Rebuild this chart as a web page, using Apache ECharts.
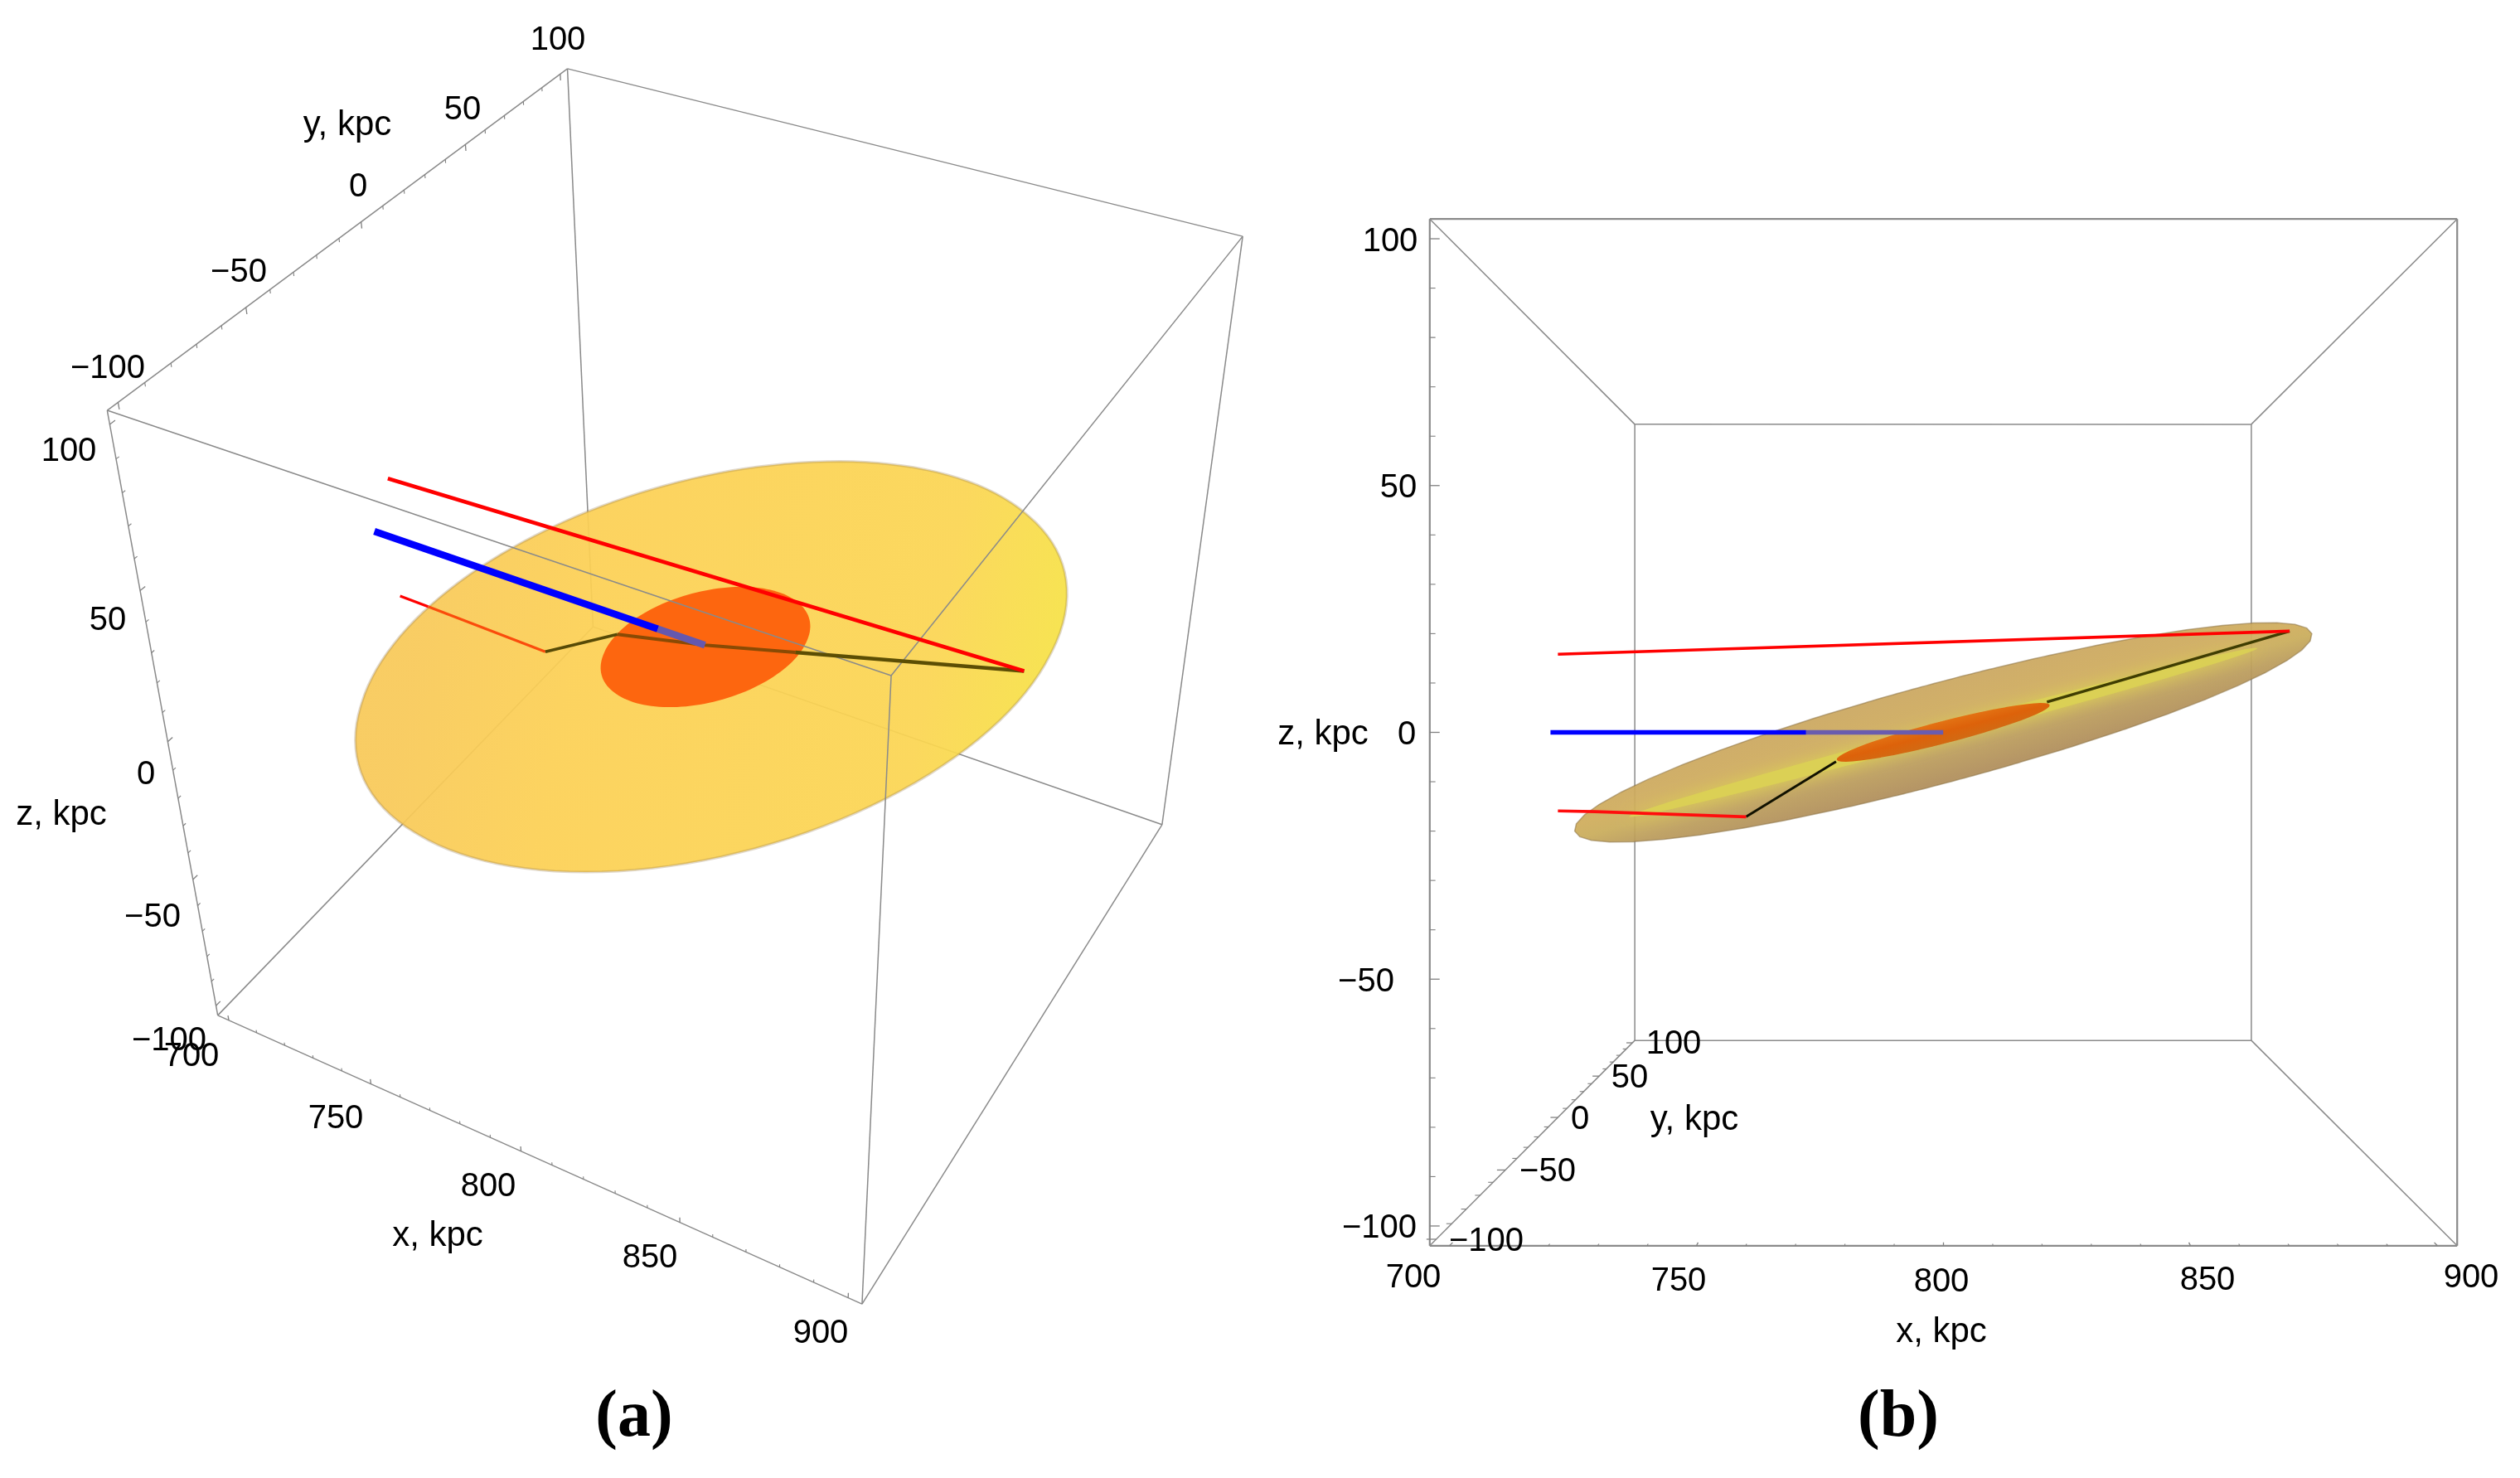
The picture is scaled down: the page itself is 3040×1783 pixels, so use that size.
<!DOCTYPE html>
<html lang="en">

<head>
    <meta charset="UTF-8">
    <script src="https://cdn.jsdelivr.net/npm/echarts@6/dist/echarts.min.js"></script>
    <title>Disk and sight lines</title>
    <style>
        html, body { margin: 0; padding: 0; background: #fff; }
    </style>
</head>

<body>
    <div id="main" style="width: 3040px;height:1783px;"></div>

    <script type="text/javascript">
        // tick labels (kpc)
        var xTicks = [700, 750, 800, 850, 900];
        var yTicks = [-100, -50, 0, 50, 100];
        var zTicks = [-100, -50, 0, 50, 100];

        // sight lines, points as [x, y, z] in kpc
        var blueLine = [[694, 0, 0], [763, 0, 0], [785, 0, 0], [800, 0, 0]];
        var blueStartA = [689, 0, 0];
        var upperRed = [[696, 0, 21.1], [893.5, 0, 27.35]];
        var lowerRed = [[696, 0, -21.2], [706, 0, -21.4], [746.8, 0, -22.8]];
        var blackLine = [[746.8, 0, -22.8], [771, 1, -7.9], [800, 0, 0], [828, 0, 8.2], [893.5, 0, 27.35]];

        // the two spheroids: centre, radius, half thickness, tilt of the normal (rad)
        var diskCenter = [800, 0, 0];
        var outerRadius = 100, outerThick = 10.5, outerThickSide = 13, outerTilt = 0.262;
        var innerRadius = 29.6, innerThick = 3, innerTilt = 0.252;

        // box limits with mathematica's 2% padding
        var xLim = [696, 904], yLim = [-104, 104], zLim = [-104, 104];

        // where each box corner lands on the page, one view per panel
        // order: (xlo,ylo,zhi) (xlo,yhi,zhi) (xhi,yhi,zhi) (xhi,ylo,zhi) (xlo,ylo,zlo) (xlo,yhi,zlo) (xhi,yhi,zlo) (xhi,ylo,zlo)
        var viewA = [[129, 495], [685, 83], [1499, 285], [1075, 815], [263, 1225], [715, 756], [1402, 995], [1040, 1573]];
        var viewB = [[1725, 264], [1972, 512], [2716, 512], [2964, 264], [1725, 1503], [1972, 1255], [2716, 1255], [2964, 1503]];

        // text spots, same order as the tick arrays
        var spotsA = {
            x: [[231, 1271], [405, 1346], [589, 1428], [784, 1514], [990, 1605]],
            y: [[130, 441], [288, 325], [432, 222], [558, 129], [673, 45]],
            z: [[204, 1252], [184, 1103], [176, 931], [130, 745], [83, 541]],
            names: [['x, kpc', 528, 1487], ['y, kpc', 419, 147], ['z, kpc', 74, 979]]
        };
        var spotsB = {
            x: [[1705, 1538], [2025, 1542], [2342, 1543], [2663, 1541], [2981, 1538]],
            y: [[1793, 1494], [1867, 1410], [1906, 1347], [1966, 1297], [2019, 1256]],
            z: [[1664, 1478], [1648, 1181], [1697, 883], [1687, 585], [1677, 288]],
            names: [['x, kpc', 2342, 1603], ['y, kpc', 2044, 1347], ['z, kpc', 1596, 882]]
        };

        var GRAY = '#8a8a8a';

        function solve(A, b) {
            var n = b.length;
            for (var i = 0; i < n; i++) {
                var m = i;
                for (var r = i; r < n; r++) if (Math.abs(A[r][i]) > Math.abs(A[m][i])) m = r;
                var t = A[i]; A[i] = A[m]; A[m] = t;
                t = b[i]; b[i] = b[m]; b[m] = t;
                for (r = i + 1; r < n; r++) {
                    var f = A[r][i] / A[i][i];
                    for (var c = i; c < n; c++) A[r][c] -= f * A[i][c];
                    b[r] -= f * b[i];
                }
            }
            var x = [];
            for (i = n - 1; i >= 0; i--) {
                var s = b[i];
                for (c = i + 1; c < n; c++) s -= A[i][c] * x[c];
                x[i] = s / A[i][i];
            }
            return x;
        }

        function norm3(p) {
            return [(p[0] - 800) / 100, p[1] / 100, p[2] / 100];
        }

        function boxCorners() {
            return [
                [xLim[0], yLim[0], zLim[1]], [xLim[0], yLim[1], zLim[1]], [xLim[1], yLim[1], zLim[1]], [xLim[1], yLim[0], zLim[1]],
                [xLim[0], yLim[0], zLim[0]], [xLim[0], yLim[1], zLim[0]], [xLim[1], yLim[1], zLim[0]], [xLim[1], yLim[0], zLim[0]]
            ];
        }

        // least squares perspective camera from the eight corners
        function makeCamera(view) {
            var rows = [], vals = [];
            boxCorners().forEach(function (c, i) {
                var p = norm3(c), u = view[i][0], w = view[i][1];
                rows.push([p[0], p[1], p[2], 1, 0, 0, 0, 0, -u * p[0], -u * p[1], -u * p[2]]); vals.push(u);
                rows.push([0, 0, 0, 0, p[0], p[1], p[2], 1, -w * p[0], -w * p[1], -w * p[2]]); vals.push(w);
            });
            var A = [], b = [];
            for (var i = 0; i < 11; i++) {
                A.push(new Array(11).fill(0));
                b.push(0);
            }
            rows.forEach(function (r, k) {
                for (var i = 0; i < 11; i++) {
                    b[i] += r[i] * vals[k];
                    for (var j = 0; j < 11; j++) A[i][j] += r[i] * r[j];
                }
            });
            var H = solve(A, b);
            return function (pt) {
                var p = norm3(pt);
                var d = H[8] * p[0] + H[9] * p[1] + H[10] * p[2] + 1;
                return [(H[0] * p[0] + H[1] * p[1] + H[2] * p[2] + H[3]) / d, (H[4] * p[0] + H[5] * p[1] + H[6] * p[2] + H[7]) / d];
            };
        }

        function hull(pts) {
            pts = pts.slice().sort(function (a, b) { return a[0] - b[0] || a[1] - b[1]; });
            function cross(o, a, b) { return (a[0] - o[0]) * (b[1] - o[1]) - (a[1] - o[1]) * (b[0] - o[0]); }
            var lo = [], up = [];
            pts.forEach(function (p) {
                while (lo.length > 1 && cross(lo[lo.length - 2], lo[lo.length - 1], p) <= 0) lo.pop();
                lo.push(p);
            });
            pts.slice().reverse().forEach(function (p) {
                while (up.length > 1 && cross(up[up.length - 2], up[up.length - 1], p) <= 0) up.pop();
                up.push(p);
            });
            return lo.slice(0, -1).concat(up.slice(0, -1));
        }

        // outline of a spheroid as seen by one camera
        function outline(cam, R, T, tilt) {
            var n = [-Math.sin(tilt), 0, Math.cos(tilt)];
            var e1 = [Math.cos(tilt), 0, Math.sin(tilt)], e2 = [0, 1, 0];
            var pts = [];
            for (var i = 0; i < 144; i++) {
                for (var j = -12; j <= 12; j++) {
                    var u = i / 144 * 2 * Math.PI, v = j / 12 * Math.PI / 2;
                    var a = R * Math.cos(v) * Math.cos(u), b = R * Math.cos(v) * Math.sin(u), c = T * Math.sin(v);
                    pts.push(cam([
                        diskCenter[0] + a * e1[0] + b * e2[0] + c * n[0],
                        diskCenter[1] + a * e1[1] + b * e2[1] + c * n[1],
                        diskCenter[2] + a * e1[2] + b * e2[2] + c * n[2]
                    ]));
                }
            }
            return hull(pts);
        }

        function gradient(x0, y0, x1, y1, stops) {
            return new echarts.graphic.LinearGradient(x0, y0, x1, y1, stops.map(function (s) {
                return { offset: s[0], color: s[1] };
            }), true);
        }

        function lineSeries(grid, cam, pts, color, width) {
            return {
                type: 'line', xAxisIndex: grid, yAxisIndex: grid, data: pts.map(cam), showSymbol: false, symbol: 'none',
                silent: true, clip: false, animation: false, smooth: false,
                lineStyle: { color: color, width: width, cap: 'butt', join: 'miter' }
            };
        }

        function polySeries(grid, points, style) {
            return {
                type: 'custom', xAxisIndex: grid, yAxisIndex: grid, silent: true, clip: false, animation: false,
                data: [0],
                renderItem: function (params, api) {
                    return { type: 'polygon', shape: { points: points.map(function (p) { return api.coord(p); }) }, style: style };
                }
            };
        }

        function segSeries(grid, segs) {
            return {
                type: 'custom', xAxisIndex: grid, yAxisIndex: grid, silent: true, clip: false, animation: false,
                data: segs.map(function (s, i) { return i; }),
                renderItem: function (params, api) {
                    var s = segs[params.dataIndex];
                    var a = api.coord(s[0]), b = api.coord(s[1]);
                    return {
                        type: 'line', shape: { x1: a[0], y1: a[1], x2: b[0], y2: b[1] },
                        style: { stroke: s[2] || GRAY, lineWidth: s[3] || 1.5, fill: null }
                    };
                }
            };
        }

        function textSeries(grid, items) {
            return {
                type: 'custom', xAxisIndex: grid, yAxisIndex: grid, silent: true, clip: false, animation: false,
                data: items.map(function (s, i) { return i; }),
                renderItem: function (params, api) {
                    var t = items[params.dataIndex];
                    var c = api.coord([t.x, t.y + 4]);
                    return {
                        type: 'text',
                        style: {
                            x: c[0], y: c[1], text: t.text, fill: '#000',
                            font: t.font || '40px "Liberation Sans"', textAlign: t.align || 'center', textVerticalAlign: 'middle'
                        }
                    };
                }
            };
        }

        function fmt(v) {
            return String(v).replace('-', '\u2212');
        }

        function tickLabels(spots) {
            var out = [];
            [[xTicks, spots.x], [yTicks, spots.y], [zTicks, spots.z]].forEach(function (axis) {
                axis[0].forEach(function (v, i) {
                    out.push({ text: fmt(v), x: axis[1][i][0], y: axis[1][i][1] });
                });
            });
            spots.names.forEach(function (n) {
                out.push({ text: n[0], x: n[1], y: n[2], font: '42px "Liberation Sans"' });
            });
            return out;
        }

        // ticks every 10 kpc, majors at the labelled values
        function tickSegs(cam, fixed, dirs) {
            var segs = [];
            function add(v, axis, ticks) {
                var big = ticks.indexOf(v) >= 0;
                var len = big ? 2 : 1.15;
                var p = fixed[axis].slice();
                p[axis] = v;
                var q = p.slice();
                q[dirs[axis][0]] += dirs[axis][1] * len;
                segs.push([cam(p), cam(q), '#808080', big ? 1.3 : 1.1]);
            }
            for (var v = 700; v <= 900; v += 10) add(v, 0, xTicks);
            for (v = -100; v <= 100; v += 10) {
                add(v, 1, yTicks);
                add(v, 2, zTicks);
            }
            return segs;
        }

        var camA = makeCamera(viewA);
        var camB = makeCamera(viewB);
        var cornersA = boxCorners().map(camA);
        var cornersB = boxCorners().map(camB);

        function edges(c, list, width) {
            return list.map(function (e) { return [c[e[0]], c[e[1]], GRAY, width]; });
        }

        var seriesA = [
            // back of the box, seen through the disk
            segSeries(0, edges(cornersA, [[1, 5], [4, 5], [5, 6]], 1.5)),
            polySeries(0, outline(camA, outerRadius, outerThick, outerTilt), {
                fill: gradient(500, 800, 1250, 950, [[0, '#f8c958'], [0.25, '#fcd054'], [0.8, '#fbd552'], [1, '#f6e245']]),
                stroke: 'rgba(150,125,80,0.32)', lineWidth: 3, opacity: 0.93
            }),
            polySeries(0, outline(camA, innerRadius, innerThick, innerTilt), { fill: '#fd620c', opacity: 0.97 }),
            lineSeries(0, camA, lowerRed.slice(0, 2), '#ff0000', 3.2),
            lineSeries(0, camA, lowerRed.slice(1), '#fa4c0c', 3.2),
            lineSeries(0, camA, blackLine.slice(0, 2), '#574a06', 3.6),
            lineSeries(0, camA, blackLine.slice(1, 4), '#8a4a04', 4),
            lineSeries(0, camA, blackLine.slice(3), '#5c4e04', 4.6),
            lineSeries(0, camA, [blueStartA, blueLine[2]], '#0000ff', 8.5),
            lineSeries(0, camA, blueLine.slice(2), '#6558ae', 8.5),
            lineSeries(0, camA, upperRed, '#ff0000', 4.6),
            segSeries(0, edges(cornersA, [[0, 1], [1, 2], [2, 3], [3, 0], [0, 4], [2, 6], [3, 7], [4, 7], [6, 7]], 1.5)),
            segSeries(0, tickSegs(camA, [[0, yLim[0], zLim[0]], [xLim[0], 0, zLim[1]], [xLim[0], yLim[0], 0]], [[2, 1], [2, -1], [1, 1]])),
            textSeries(0, tickLabels(spotsA)),
            textSeries(0, [{ text: '(a)', x: 765, y: 1707, font: 'bold 80px "Liberation Serif"' }])
        ];

        var seriesB = [
            segSeries(1, edges(cornersB, [[1, 2], [2, 6], [5, 6], [1, 5], [0, 1], [2, 3], [4, 5], [6, 7]], 1.5)),
            polySeries(1, outline(camB, outerRadius, outerThickSide, outerTilt), {
                fill: gradient(2329, 829, 2359, 937, [[0, '#cba75f'], [0.4, '#cfac5b'], [0.55, '#c9ac5a'], [0.74, '#bb9c5b'], [1, '#b08e5a']]),
                stroke: 'rgba(140,115,70,0.6)', lineWidth: 1.5, opacity: 0.93
            }),
            // bright band along the long axis, fades out before the tips
            polySeries(1, outline(camB, 86, 2, outerTilt), {
                fill: '#dcd253', opacity: 0.85, shadowColor: '#dcd253', shadowBlur: 18
            }),
            lineSeries(1, camB, blackLine.slice(0, 2), '#111100', 3),
            lineSeries(1, camB, blackLine.slice(3), '#3f3d02', 3.4),
            polySeries(1, outline(camB, innerRadius, innerThick, innerTilt), {
                fill: gradient(2338, 860, 2350, 906, [[0, '#e8801c'], [0.5, '#dd620a'], [1, '#c9701a']])
            }),
            lineSeries(1, camB, blueLine.slice(0, 2), '#0000ff', 5.5),
            lineSeries(1, camB, blueLine.slice(1), '#6a5cae', 5.5),
            lineSeries(1, camB, upperRed, '#ff0000', 3.6),
            lineSeries(1, camB, lowerRed, '#ff0d0d', 3.6),
            segSeries(1, edges(cornersB, [[0, 3], [3, 7], [7, 4], [4, 0]], 2.2)),
            segSeries(1, tickSegs(camB, [[0, yLim[0], zLim[0]], [xLim[0], 0, zLim[0]], [xLim[0], yLim[0], 0]], [[1, 1], [0, -1], [0, 1]])),
            textSeries(1, tickLabels(spotsB)),
            textSeries(1, [{ text: '(b)', x: 2290, y: 1707, font: 'bold 80px "Liberation Serif"' }])
        ];

        var myChart = echarts.init(document.getElementById('main'), null, { renderer: 'canvas' });

        var option = {
            backgroundColor: '#fff',
            animation: false,
            grid: [
                { left: 0, top: 0, width: 1520, height: 1783 },
                { left: 1520, top: 0, width: 1520, height: 1783 }
            ],
            xAxis: [
                { type: 'value', gridIndex: 0, min: 0, max: 1520, show: false },
                { type: 'value', gridIndex: 1, min: 1520, max: 3040, show: false }
            ],
            yAxis: [
                { type: 'value', gridIndex: 0, min: 0, max: 1783, inverse: true, show: false },
                { type: 'value', gridIndex: 1, min: 0, max: 1783, inverse: true, show: false }
            ],
            series: seriesA.concat(seriesB)
        };

        myChart.setOption(option);
    </script>

</body>

</html>
